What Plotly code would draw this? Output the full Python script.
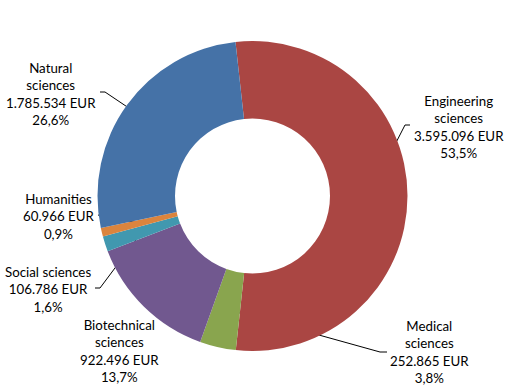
import math
import plotly.graph_objects as go

# ---- data ----
categories = ["Engineering<br>sciences", "Medical<br>sciences", "Biotechnical<br>sciences",
              "Social sciences", "Humanities", "Natural<br>sciences"]
amounts_eur = [3595096, 252865, 922496, 106786, 60966, 1785534]
slice_colors = ["#AA4643", "#89A54E", "#71588F", "#4198AF", "#DB843D", "#4572A7"]

# ---- layout constants (pixels) ----
W, H = 506, 390
CX, CY = 252.5, 196.0
R_OUT = 155.0
HOLE = 0.5
ROTATION = -6.3

# label block centres and leader-line (elbow, end) points
label_pos = [(459, 127), (429, 352), (119, 351), (48, 289), (59, 216), (51, 94)]
leader = [((405, 125), (410, 125)),
          ((380, 352), (387, 352)),
          None,
          ((100, 288), (95, 288)),
          ((101, 216), (98, 215)),
          ((105, 92), (100, 92))]

total = sum(amounts_eur)
fracs = [v / total for v in amounts_eur]


def fmt_eur(v):
    return f"{v:,}".replace(",", ".") + " EUR"


def fmt_pct(p):
    return f"{p * 100:.1f}".replace(".", ",") + "%"


fig = go.Figure()
fig.add_trace(go.Pie(
    labels=[c.replace("<br>", " ") for c in categories],
    values=amounts_eur,
    sort=False,
    direction="clockwise",
    rotation=ROTATION,
    hole=HOLE,
    textinfo="none",
    marker=dict(colors=slice_colors, line=dict(width=0)),
    domain=dict(x=[(CX - R_OUT) / W, (CX + R_OUT) / W],
                y=[(H - CY - R_OUT) / H, (H - CY + R_OUT) / H]),
    hoverinfo="label+value+percent",
    showlegend=False,
))

# leader lines anchored on slice mid-angles at mid-ring radius
r_mid = R_OUT * (1 + HOLE) / 2
cum = 0.0
for i, f in enumerate(fracs):
    mid = math.radians(ROTATION + 360 * (cum + f / 2))
    cum += f
    if leader[i] is None:
        continue
    px = CX + r_mid * math.sin(mid)
    py = CY - r_mid * math.cos(mid)
    (ex, ey), (tx, ty) = leader[i]
    fig.add_trace(go.Scatter(
        x=[px, ex, tx], y=[py, ey, ty], mode="lines",
        line=dict(color="black", width=1),
        hoverinfo="skip", showlegend=False,
    ))

for i, cat in enumerate(categories):
    lx, ly = label_pos[i]
    fig.add_annotation(
        x=lx, y=ly, xref="x", yref="y",
        text=f"{cat}<br>{fmt_eur(amounts_eur[i])}<br>{fmt_pct(fracs[i])}",
        showarrow=False, xanchor="center", yanchor="middle", align="center",
        font=dict(family="Lato", size=13.3, color="black"),
    )

fig.update_layout(
    width=W, height=H, autosize=False,
    margin=dict(l=0, r=0, t=0, b=0),
    paper_bgcolor="white", plot_bgcolor="rgba(0,0,0,0)",
    showlegend=False,
    xaxis=dict(range=[0, W], visible=False, fixedrange=True),
    yaxis=dict(range=[H, 0], visible=False, fixedrange=True),
)

fig.write_html("out.html",
               config={"displayModeBar": False},
               post_script="document.body.style.margin='0';document.body.style.overflow='hidden';")
